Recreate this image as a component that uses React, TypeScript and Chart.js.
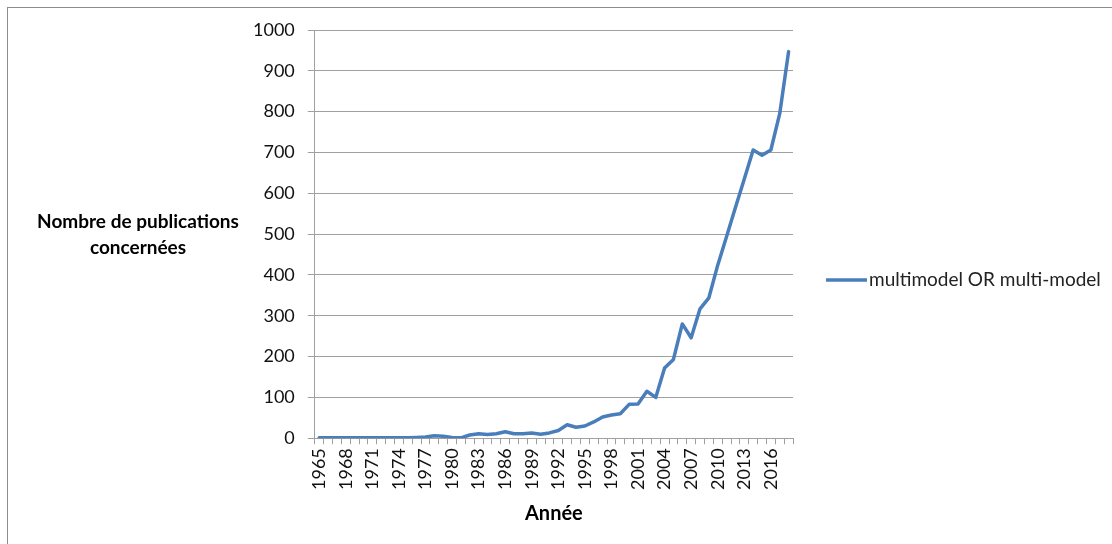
import React, { useEffect, useRef } from "react";
import { Chart, registerables } from "chart.js";

Chart.register(...registerables);

const years: string[] = [
  "1965", "1966", "1967", "1968", "1969", "1970", "1971", "1972", "1973", "1974",
  "1975", "1976", "1977", "1978", "1979", "1980", "1981", "1982", "1983", "1984",
  "1985", "1986", "1987", "1988", "1989", "1990", "1991", "1992", "1993", "1994",
  "1995", "1996", "1997", "1998", "1999", "2000", "2001", "2002", "2003", "2004",
  "2005", "2006", "2007", "2008", "2009", "2010", "2011", "2012", "2013", "2014",
  "2015", "2016", "2017", "2018",
];

const publications: number[] = [
  1, 1, 1, 1, 1, 1, 1, 1, 1, 1,
  1, 2, 3, 6, 5, 2, 1, 8, 11, 9,
  11, 16, 11, 11, 13, 10, 13, 19, 33, 27,
  30, 40, 52, 57, 60, 83, 84, 115, 100, 172,
  193, 280, 246, 317, 344, 424, 494, 565, 635, 706,
  693, 706, 795, 947,
];

const seriesName = "multimodel OR multi-model";
const yTitleLines = ["Nombre de publications", "concernées"];
const xTitle = "Année";

const LINE_COLOR = "#4a7ebb";
const GRID_COLOR = "#a0a0a0";
const FONT = "Lato, 'Open Sans', sans-serif";

const overlayPlugin = {
  id: "overlayText",
  afterDraw(chart: any) {
    const { ctx, chartArea } = chart;
    ctx.save();
    ctx.fillStyle = "#000";
    ctx.font = `bold 19px ${FONT}`;
    ctx.textAlign = "center";
    ctx.textBaseline = "middle";
    ctx.fillText(yTitleLines[0], 138, 222);
    ctx.fillText(yTitleLines[1], 138, 248);
    const lx = chartArea.right + 33;
    const ly = 280;
    ctx.strokeStyle = LINE_COLOR;
    ctx.lineWidth = 3.5;
    ctx.beginPath();
    ctx.moveTo(lx, ly);
    ctx.lineTo(lx + 41, ly);
    ctx.stroke();
    ctx.fillStyle = "#222";
    ctx.font = `19px ${FONT}`;
    ctx.textAlign = "left";
    ctx.fillText(seriesName, lx + 43, ly);
    ctx.restore();
  },
};

export default function App() {
  const canvasRef = useRef<HTMLCanvasElement | null>(null);

  useEffect(() => {
    if (!canvasRef.current) return;
    const chart = new Chart(canvasRef.current, {
      type: "line",
      data: {
        labels: years,
        datasets: [
          {
            label: seriesName,
            data: publications,
            borderColor: LINE_COLOR,
            backgroundColor: LINE_COLOR,
            borderWidth: 3.5,
            pointRadius: 0,
            tension: 0,
            borderJoinStyle: "round",
            borderCapStyle: "round",
          },
        ],
      },
      options: {
        animation: false,
        responsive: false,
        layout: { padding: { left: 240, right: 319, top: 30, bottom: 18 } },
        plugins: {
          legend: { display: false },
          tooltip: { enabled: false },
        },
        scales: {
          x: {
            type: "category",
            offset: true,
            grid: {
              offset: true,
              drawOnChartArea: false,
              drawTicks: true,
              tickLength: 6,
              color: GRID_COLOR,
            },
            border: { color: GRID_COLOR, width: 1 },
            ticks: {
              autoSkip: false,
              maxRotation: 90,
              minRotation: 90,
              padding: 4,
              color: "#111",
              font: { family: FONT, size: 18 },
              callback: (_v: any, i: number) => (i % 3 === 0 ? years[i] : ""),
            },
            title: {
              display: true,
              text: xTitle,
              color: "#000",
              font: { family: FONT, size: 20, weight: "bold" },
              padding: { top: 8, bottom: 0 },
            },
          },
          y: {
            min: 0,
            max: 1000,
            grid: {
              color: GRID_COLOR,
              drawTicks: true,
              tickLength: 7,
            },
            border: { color: GRID_COLOR, width: 1 },
            ticks: {
              stepSize: 100,
              padding: 13,
              color: "#111",
              font: { family: FONT, size: 18 },
              callback: (v: any) => String(v),
            },
          },
        },
      },
      plugins: [overlayPlugin],
    });
    return () => chart.destroy();
  }, []);

  return (
    <div style={{ position: "absolute", left: 0, top: 0, width: 1112, height: 544, background: "#fff" }}>
      <canvas ref={canvasRef} width={1112} height={544} style={{ position: "absolute", left: 0, top: 0 }} />
      <div
        style={{
          position: "absolute",
          left: 7,
          top: 7,
          width: 1105,
          height: 537,
          borderLeft: "1.5px solid #8c8c8c",
          borderTop: "1.5px solid #8c8c8c",
          pointerEvents: "none",
        }}
      />
    </div>
  );
}
